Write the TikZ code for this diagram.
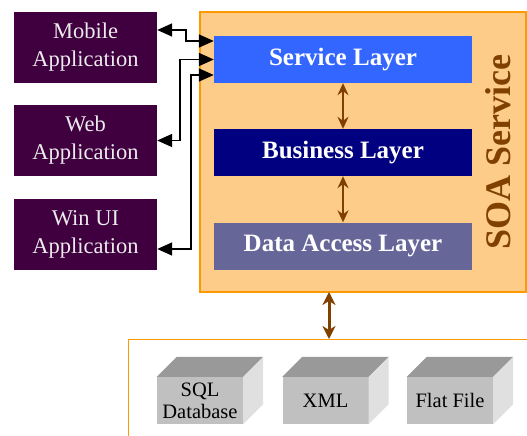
\documentclass[tikz,border=0pt]{standalone}
\usepackage{fontspec}
\setmainfont{Liberation Serif}
\usetikzlibrary{arrows.meta,calc}
\definecolor{soafill}{RGB}{253,204,136}
\definecolor{soaline}{RGB}{255,153,0}
\definecolor{brownc}{RGB}{128,64,0}
\definecolor{appfill}{RGB}{64,0,64}
\definecolor{svcfill}{RGB}{51,102,255}
\definecolor{busfill}{RGB}{0,0,128}
\definecolor{dalfill}{RGB}{102,102,153}
\definecolor{cubetop}{RGB}{153,153,153}
\definecolor{cubefront}{RGB}{192,192,192}
\definecolor{cubeside}{RGB}{224,224,224}
\tikzset{
  appbox/.style={fill=appfill, text=white!92!black, minimum width=143pt, minimum height=71pt,
    inner sep=0pt, align=center, font=\fontsize{22.5}{28}\selectfont},
  layerbox/.style={minimum width=258pt, minimum height=47pt, inner sep=0pt, text=white,
    font=\fontsize{25}{28}\selectfont\bfseries},
  appar/.style={line width=1.6pt, black, {Triangle[length=15pt,width=13pt]}-{Triangle[length=15pt,width=13pt]}},
  layar/.style={line width=1.4pt, brownc, {Stealth[length=12pt,width=11pt,inset=4pt]}-{Stealth[length=12pt,width=11pt,inset=4pt]}},
  dbar/.style={line width=3pt, brownc, {Stealth[length=13pt,width=13pt,inset=4pt]}-{Stealth[length=13pt,width=13pt,inset=4pt]}},
  cubefr/.style={fill=cubefront, minimum width=86pt, minimum height=47pt, inner sep=0pt,
    align=center, font=\fontsize{20.5}{22}\selectfont},
}
\begin{document}
\begin{tikzpicture}[x=1pt,y=-1pt]
\clip (0,0) rectangle (527,436);
\fill[white] (0,0) rectangle (527,436);
% SOA container
\node[draw=soaline, fill=soafill, line width=1.2pt, minimum width=326pt, minimum height=280pt,
  inner sep=0pt] (soa) at (363,152) {};
\node[rotate=90, text=brownc, font=\fontsize{36}{40}\selectfont\bfseries] (soat) at (498,152) {SOA Service};
% layers
\node[layerbox, fill=svcfill] (svc) at (343,59.5) {Service Layer};
\node[layerbox, fill=busfill] (bus) at (343,152.5) {Business Layer};
\node[layerbox, fill=dalfill] (dal) at (343,246) {Data Access Layer};
\draw[layar] (svc.south) -- (bus.north);
\draw[layar] (bus.south) -- (dal.north);
% apps
\node[appbox] (mob) at (85.5,47.5) {Mobile\\Application};
\node[appbox] (web) at (85.5,140.5) {Web\\Application};
\node[appbox] (win) at (85.5,234) {Win UI\\Application};
\draw[appar] ([yshift=17.5pt]mob.east) -- ++(29,0) |- ([yshift=18.5pt]svc.west);
\draw[appar] (web.east) -- ++(23,0) |- (svc.west);
\draw[appar] ([yshift=-15pt]win.east) -- ++(34,0) |- ([yshift=-15.5pt]svc.west);
% data store box
\node[draw=soaline, line width=1.2pt, fill=white, minimum width=440pt, minimum height=140pt,
  inner sep=0pt, anchor=north west] (store) at (128,339) {};
\coordinate (dtop) at (329,339);
\draw[dbar] (329,292) -- (dtop);
% cubes
\foreach \nm/\cx/\txt in {sql/200/{SQL\\Database}, xml/325.5/{XML}, flat/450/{Flat File}}{
  \node[cubefr] (\nm) at (\cx,400.5) {\txt};
  \fill[cubetop] (\nm.north west) -- ++(20,-20) -- ($(\nm.north east)+(20,-20)$) -- (\nm.north east) -- cycle;
  \fill[cubeside] (\nm.north east) -- ++(20,-20) -- ($(\nm.south east)+(20,-20)$) -- (\nm.south east) -- cycle;
}
\end{tikzpicture}
\end{document}
